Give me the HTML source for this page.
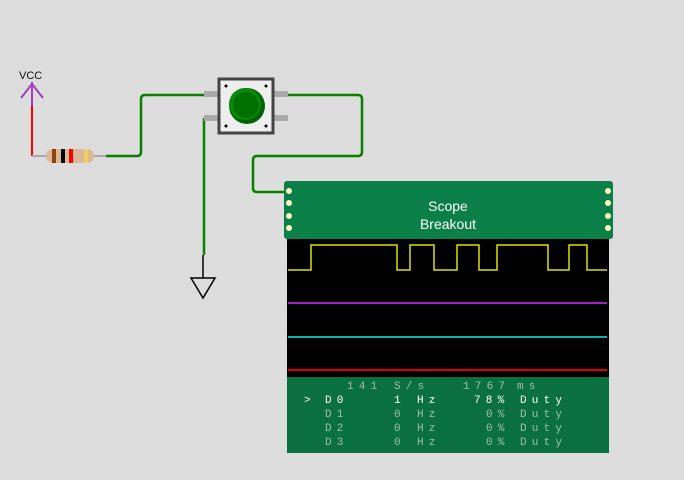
<!DOCTYPE html>
<html><head><style>
body{margin:0;background:#dddddd;}
.w{position:relative;width:684px;height:480px;overflow:hidden;background:#dddddd;font-family:"Liberation Sans",sans-serif;}
.t{position:absolute;font-family:"Liberation Mono",monospace;font-size:11px;letter-spacing:5.2px;white-space:pre;color:#9fbfa9;}
.b{color:#fff;}
</style></head><body><div class="w">
<svg width="684" height="480" style="position:absolute;left:0;top:0">
<text x="19" y="79" font-size="11" font-family="Liberation Sans" fill="#111">VCC</text>
<line x1="32" y1="82" x2="32" y2="106" stroke="#a040c0" stroke-width="2"/>
<polyline points="21,98 32,84 43,98" fill="none" stroke="#a040c0" stroke-width="2"/>
<line x1="32" y1="106" x2="32" y2="156" stroke="#f00" stroke-width="2"/>
<line x1="32" y1="156" x2="106" y2="156" stroke="#aaa" stroke-width="2"/>
<rect x="46" y="149" width="48" height="14" rx="7" fill="#dcb896"/>
<rect x="52" y="149" width="4" height="14" fill="#8b4513"/>
<rect x="61" y="149" width="4" height="14" fill="#000"/>
<rect x="69" y="149" width="4" height="14" fill="#f00"/>
<rect x="84" y="149" width="4" height="14" fill="#f0d060"/>
<path d="M106 156 H137 Q141 156 141 152 V99 Q141 95 145 95 H204" fill="none" stroke="#0a8000" stroke-width="2.5"/>
<path d="M204 118 V255" fill="none" stroke="#0a8000" stroke-width="2.5"/>
<line x1="203" y1="255" x2="203" y2="278" stroke="#000" stroke-width="1.5"/>
<polygon points="191,278 215,278 203,298" fill="none" stroke="#000" stroke-width="1.5"/>
<path d="M288 95 H358 Q362 95 362 99 V152 Q362 156 358 156 H257 Q253 156 253 160 V188 Q253 192 257 192 H288" fill="none" stroke="#0a8000" stroke-width="2.5"/>
<rect x="204" y="91" width="84" height="6" fill="#aaa"/>
<rect x="204" y="115" width="84" height="6" fill="#aaa"/>
<rect x="219" y="79" width="54" height="54" fill="#eee" stroke="#444" stroke-width="3"/>
<circle cx="226" cy="86" r="1.5" fill="#000"/><circle cx="266" cy="86" r="1.5" fill="#000"/>
<circle cx="226" cy="126" r="1.5" fill="#000"/><circle cx="266" cy="126" r="1.5" fill="#000"/>
<circle cx="247" cy="106" r="18" fill="#006400"/>
<circle cx="245" cy="104" r="16" fill="#0a8a0a"/>
<circle cx="246" cy="105" r="13" fill="#007000"/>
<rect x="287" y="238" width="322" height="140" fill="#000"/>
<rect x="287" y="377" width="322" height="76" fill="#0a7040"/>
<rect x="284" y="181" width="329" height="58" rx="3" fill="#0a8048"/>
<g fill="#fff8c0"><circle cx="289" cy="191" r="3"/><circle cx="289" cy="203" r="3"/><circle cx="289" cy="216" r="3"/><circle cx="289" cy="228" r="3"/>
<circle cx="608" cy="191" r="3"/><circle cx="608" cy="203" r="3"/><circle cx="608" cy="216" r="3"/><circle cx="608" cy="228" r="3"/></g>
<text x="448" y="211" text-anchor="middle" font-size="14" fill="#fff" font-family="Liberation Sans">Scope</text>
<text x="448" y="229" text-anchor="middle" font-size="14" fill="#fff" font-family="Liberation Sans">Breakout</text>
<polyline points="288,270 311,270 311,245 397,245 397,270 410,270 410,245 434,245 434,270 457,270 457,245 479,245 479,270 497,270 497,245 548,245 548,270 569,270 569,245 587,245 587,270 607,270" fill="none" stroke="#e0e000" stroke-width="1.5"/>
<line x1="288" y1="303" x2="607" y2="303" stroke="#a020c0" stroke-width="2"/>
<line x1="288" y1="337" x2="607" y2="337" stroke="#10b0b0" stroke-width="2"/>
<line x1="288" y1="370" x2="607" y2="370" stroke="#e00000" stroke-width="2"/>
</svg>
<div class="t" style="left:347px;top:381px">141</div><div class="t" style="left:394px;top:381px">S/s</div><div class="t" style="left:463px;top:381px">1767</div><div class="t" style="left:517px;top:381px">ms</div>
<div class="t b" style="left:304px;top:395px">&gt;</div><div class="t b" style="left:325px;top:395px">D0</div><div class="t b" style="left:394px;top:395px">1</div><div class="t b" style="left:417px;top:395px">Hz</div><div class="t b" style="left:474px;top:395px">78%</div><div class="t b" style="left:520px;top:395px">Duty</div>
<div class="t" style="left:325px;top:409px">D1</div><div class="t" style="left:394px;top:409px">0</div><div class="t" style="left:417px;top:409px">Hz</div><div class="t" style="left:486px;top:409px">0%</div><div class="t" style="left:520px;top:409px">Duty</div>
<div class="t" style="left:325px;top:423px">D2</div><div class="t" style="left:394px;top:423px">0</div><div class="t" style="left:417px;top:423px">Hz</div><div class="t" style="left:486px;top:423px">0%</div><div class="t" style="left:520px;top:423px">Duty</div>
<div class="t" style="left:325px;top:437px">D3</div><div class="t" style="left:394px;top:437px">0</div><div class="t" style="left:417px;top:437px">Hz</div><div class="t" style="left:486px;top:437px">0%</div><div class="t" style="left:520px;top:437px">Duty</div>
</div></body></html>
